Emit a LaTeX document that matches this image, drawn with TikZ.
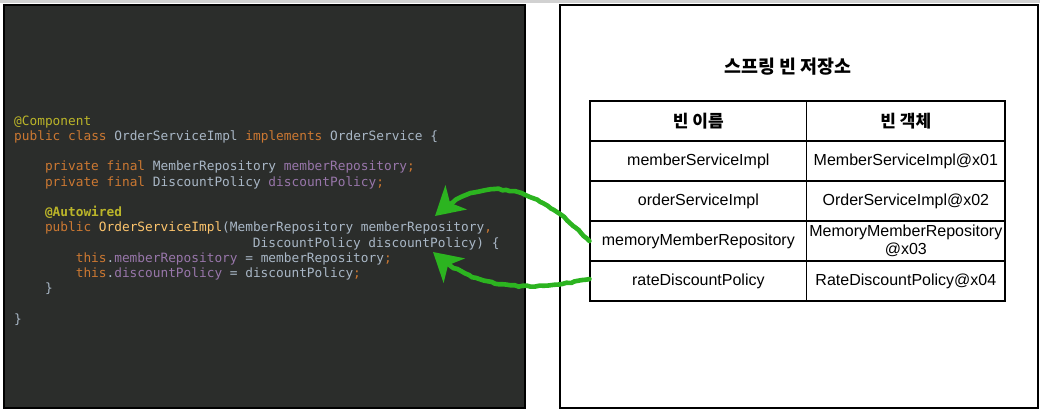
\documentclass[tikz,border=0pt]{standalone}
\usepackage{fontspec}
\setmainfont{Liberation Sans}
\setmonofont{DejaVu Sans Mono}
\newfontfamily\krfont{Noto Sans CJK KR}
\usepackage{xcolor}
\usetikzlibrary{arrows.meta,positioning,decorations.pathmorphing}

\definecolor{editorbg}{HTML}{2B2D2B}
\definecolor{plaincol}{HTML}{A9B7C6}
\definecolor{kwcol}{HTML}{CC7832}
\definecolor{anncol}{HTML}{BBB529}
\definecolor{fldcol}{HTML}{9876AA}
\definecolor{fncol}{HTML}{FFC66D}
\definecolor{wiregreen}{RGB}{44,180,32}

\newcommand{\kw}[1]{\textcolor{kwcol}{#1}}
\newcommand{\ann}[1]{\textcolor{anncol}{#1}}
\newcommand{\fld}[1]{\textcolor{fldcol}{#1}}
\newcommand{\fn}[1]{\textcolor{fncol}{#1}}

\begin{document}
\begin{tikzpicture}[
  x=1pt, y=-1pt,
  codeline/.style={anchor=base west, inner sep=0pt, text=plaincol,
    font=\ttfamily\fontsize{12.8}{15}\selectfont},
  panel/.style={draw=black, line width=1.6pt},
  namecell/.style={draw=black, line width=1.1pt, minimum width=216.7pt, minimum height=40pt,
    inner sep=0pt, align=center, font=\fontsize{16}{17.7}\selectfont},
  objcell/.style={namecell, minimum width=198.3pt},
  headtext/.style={font=\krfont\bfseries\fontsize{17}{19}\selectfont},
  title/.style={inner sep=0pt, font=\krfont\bfseries\fontsize{18.4}{21}\selectfont},
  wire/.style={draw=wiregreen, line width=4.6pt, line cap=round, decorate,
    decoration={random steps, segment length=4pt, amplitude=0.7pt, pre length=3pt, post length=8pt},
    -{Stealth[length=28pt, width=32pt, inset=8pt]}}
]
  \useasboundingbox (0,0) rectangle (1040,414);
  \fill[white] (0,0) rectangle (1040,414);
  \fill[black!18] (0,0) rectangle (1040,3);
  % code editor panel
  \fill[editorbg] (4,5) rectangle (525,408);
  \draw[panel] (4,5) rectangle (525,408);
  \def\cw{7.7}
  \node[codeline] (ln0)  at (14,125.4) {\ann{@Component}};
  \node[codeline] (ln1)  at (14,140.6) {\kw{public class} OrderServiceImpl \kw{implements} OrderService \{};
  \node[codeline] (ln3)  at (14+4*\cw,171.0) {\kw{private final} MemberRepository \fld{memberRepository}\kw{;}};
  \node[codeline] (ln4)  at (14+4*\cw,186.2) {\kw{private final} DiscountPolicy \fld{discountPolicy}\kw{;}};
  \node[codeline] (ln6)  at (14+4*\cw,216.6) {\ann{\bfseries @Autowired}};
  \node[codeline] (ln7)  at (14+4*\cw,231.8) {\kw{public} \fn{OrderServiceImpl}(MemberRepository memberRepository\kw{,}};
  \node[codeline] (ln8)  at (14+31*\cw,247.0) {DiscountPolicy discountPolicy) \{};
  \node[codeline] (ln9)  at (14+8*\cw,262.2) {\kw{this}.\fld{memberRepository} = memberRepository\kw{;}};
  \node[codeline] (ln10) at (14+8*\cw,277.4) {\kw{this}.\fld{discountPolicy} = discountPolicy\kw{;}};
  \node[codeline] (ln11) at (14+4*\cw,292.6) {\}};
  \node[codeline] (ln13) at (14,323.0) {\}};
  % bean container panel
  \draw[panel] (560,5) rectangle (1038,408);
  \node[title] (title) at (788,67) {스프링 빈 저장소};
  \node[namecell, headtext] (hname) at (698.35,121) {빈 이름};
  \node[objcell, headtext]  (hobj)  at (905.85,121) {빈 객체};
  \foreach \bname/\bobj [count=\i] in {memberServiceImpl/MemberServiceImpl@x01,
      orderServiceImpl/OrderServiceImpl@x02,
      memoryMemberRepository/{MemoryMemberRepository\\@x03},
      rateDiscountPolicy/RateDiscountPolicy@x04} {
    \node[namecell] (n\i) at (698.35,121+40*\i) {\bname};
    \node[objcell]  (o\i) at (905.85,121+40*\i) {\bobj};
  }
  % injection arrows
  \coordinate (tipA) at (435,216);
  \coordinate (tipB) at (433,252);
  \draw[wire] (n3.west) .. controls (545,195) and (490,165) .. (tipA);
  \draw[wire] ([yshift=2pt]n4.west) .. controls (530,292) and (474,290) .. (tipB);
\end{tikzpicture}
\end{document}
